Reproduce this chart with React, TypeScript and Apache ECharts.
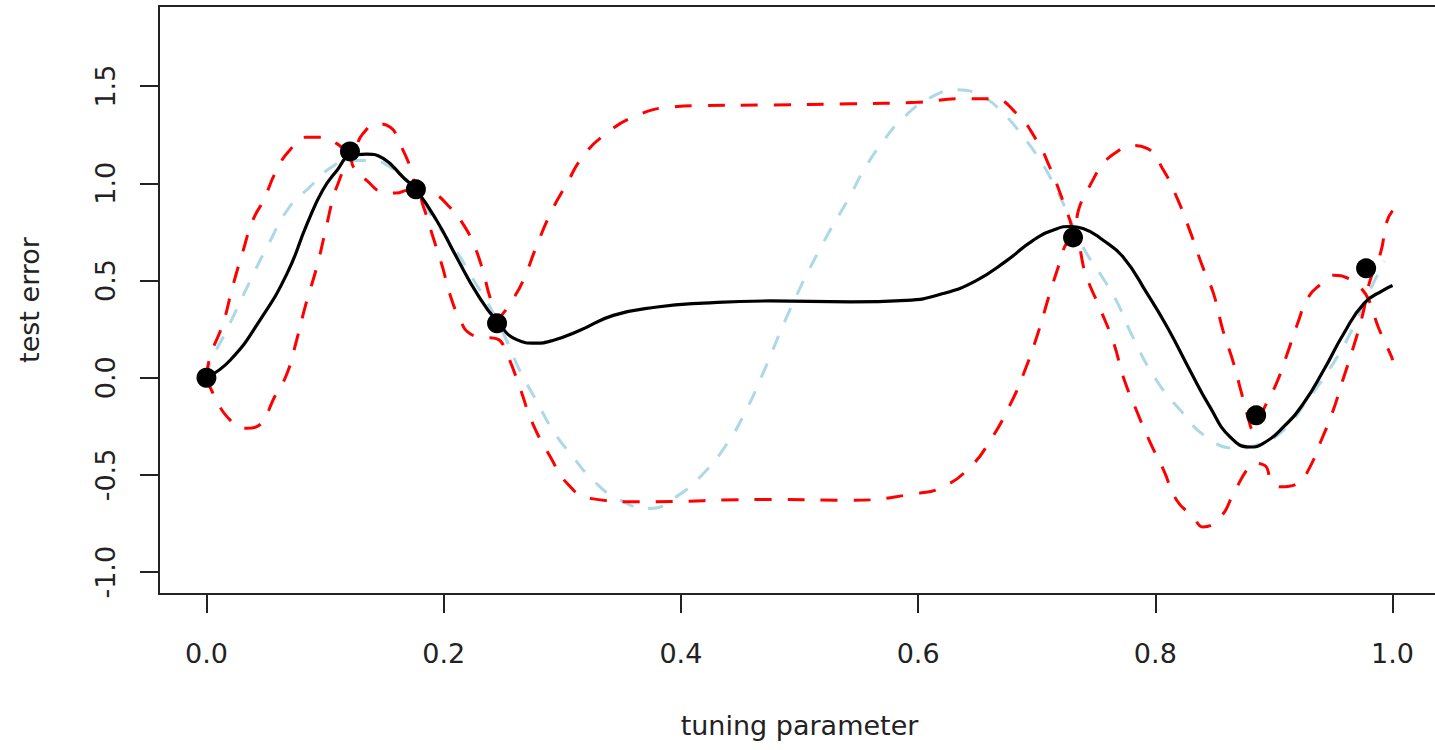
import React, { useEffect, useRef } from "react";
import * as echarts from "echarts";

const xTicks = [0, 0.2, 0.4, 0.6, 0.8, 1.0];
const yTicks = [-1, -0.5, 0, 0.5, 1, 1.5];

const observed = [
  [0, 0], [0.121, 1.164], [0.1766, 0.969], [0.245, 0.28],
  [0.7306, 0.722], [0.885, -0.193], [0.9777, 0.563],
];

const posteriorMean = [
  [0, 0], [0.02, 0.09], [0.045, 0.295], [0.068, 0.537], [0.085, 0.794],
  [0.098, 0.964], [0.11, 1.066], [0.121, 1.14], [0.135, 1.15], [0.149, 1.128],
  [0.166, 1.03], [0.177, 0.964], [0.194, 0.81], [0.211, 0.619], [0.228, 0.434],
  [0.245, 0.29], [0.262, 0.195], [0.277, 0.178], [0.292, 0.192], [0.315, 0.244],
  [0.343, 0.321], [0.38, 0.364], [0.419, 0.384], [0.475, 0.395], [0.543, 0.39],
  [0.59, 0.398], [0.621, 0.433], [0.649, 0.5], [0.675, 0.604], [0.697, 0.707],
  [0.717, 0.767], [0.728, 0.778], [0.739, 0.768], [0.756, 0.707], [0.773, 0.62],
  [0.793, 0.434], [0.81, 0.261], [0.829, 0.04], [0.846, -0.15], [0.863, -0.304],
  [0.88, -0.356], [0.891, -0.337], [0.908, -0.253], [0.925, -0.131], [0.942, 0.04],
  [0.959, 0.229], [0.976, 0.383], [0.992, 0.45], [1.0, 0.475],
];

const trueFunction = [
  [0, 0], [0.003, 0.075], [0.017, 0.244], [0.037, 0.5], [0.051, 0.672], [0.07, 0.878],
  [0.087, 0.98], [0.104, 1.077], [0.121, 1.118], [0.138, 1.118], [0.155, 1.083],
  [0.174, 0.98], [0.194, 0.794], [0.214, 0.62], [0.222, 0.535], [0.239, 0.364],
  [0.253, 0.193], [0.264, 0.039], [0.278, -0.116], [0.292, -0.27], [0.309, -0.407],
  [0.326, -0.527], [0.346, -0.62], [0.374, -0.672], [0.396, -0.612], [0.419, -0.492],
  [0.439, -0.338], [0.455, -0.167], [0.469, 0.02], [0.492, 0.35], [0.517, 0.66],
  [0.543, 0.94], [0.554, 1.066], [0.571, 1.22], [0.588, 1.34], [0.611, 1.443],
  [0.633, 1.481], [0.655, 1.443], [0.672, 1.359], [0.689, 1.237], [0.703, 1.118],
  [0.714, 0.999], [0.725, 0.861], [0.739, 0.672], [0.754, 0.53], [0.767, 0.398],
  [0.781, 0.21], [0.801, -0.013], [0.823, -0.18], [0.843, -0.304], [0.868, -0.362],
  [0.885, -0.347], [0.908, -0.27], [0.928, -0.116], [0.95, 0.074], [0.967, 0.261],
  [0.981, 0.45], [0.993, 0.6],
];

const upperBand = [
  [0, 0], [0.003, 0.107], [0.014, 0.28], [0.022, 0.467], [0.031, 0.655], [0.039, 0.809],
  [0.048, 0.912], [0.059, 1.066], [0.07, 1.169], [0.084, 1.237], [0.098, 1.237],
  [0.11, 1.204], [0.121, 1.155], [0.132, 1.256], [0.1435, 1.306], [0.155, 1.289],
  [0.163, 1.204], [0.172, 1.083], [0.177, 0.99], [0.185, 0.965], [0.191, 0.955],
  [0.205, 0.878], [0.216, 0.794], [0.225, 0.69], [0.233, 0.553], [0.239, 0.415],
  [0.246, 0.31], [0.25, 0.33], [0.258, 0.4], [0.267, 0.5], [0.278, 0.672],
  [0.29, 0.845], [0.304, 1.0], [0.317, 1.135], [0.337, 1.256], [0.363, 1.349],
  [0.391, 1.392], [0.419, 1.4], [0.475, 1.403], [0.543, 1.409], [0.599, 1.417],
  [0.638, 1.435], [0.663, 1.435], [0.683, 1.359], [0.7, 1.22], [0.711, 1.083],
  [0.722, 0.912], [0.728, 0.81], [0.731, 0.75], [0.736, 0.878], [0.745, 0.99],
  [0.756, 1.1], [0.767, 1.16], [0.78, 1.195], [0.793, 1.18], [0.807, 1.066],
  [0.818, 0.929], [0.829, 0.758], [0.84, 0.569], [0.849, 0.434], [0.857, 0.244],
  [0.866, 0.074], [0.872, -0.064], [0.878, -0.2], [0.883, -0.27], [0.887, -0.24],
  [0.891, -0.167], [0.902, -0.03], [0.911, 0.12], [0.92, 0.28], [0.929, 0.415],
  [0.94, 0.484], [0.95, 0.527], [0.963, 0.51], [0.972, 0.47], [0.98, 0.4],
  [0.988, 0.26], [0.999, 0.11], [1.0, 0.09],
];

const lowerBand = [
  [0, 0], [0.0055, -0.08], [0.02, -0.218], [0.034, -0.26], [0.042, -0.253], [0.059, -0.08],
  [0.068, 0.023], [0.076, 0.193], [0.084, 0.383], [0.093, 0.569], [0.101, 0.775],
  [0.107, 0.929], [0.113, 1.032], [0.118, 1.118], [0.121, 1.14], [0.124, 1.083],
  [0.135, 1.015], [0.149, 0.955], [0.16, 0.95], [0.17, 0.965], [0.177, 0.96],
  [0.183, 0.878], [0.191, 0.724], [0.199, 0.57], [0.205, 0.434], [0.214, 0.296],
  [0.222, 0.228], [0.233, 0.21], [0.245, 0.2], [0.253, 0.126], [0.264, -0.047],
  [0.275, -0.234], [0.29, -0.407], [0.304, -0.542], [0.323, -0.62], [0.363, -0.638],
  [0.475, -0.626], [0.543, -0.63], [0.599, -0.595], [0.621, -0.561], [0.644, -0.458],
  [0.661, -0.321], [0.678, -0.133], [0.689, 0.022], [0.7, 0.21], [0.711, 0.433],
  [0.72, 0.604], [0.725, 0.69], [0.731, 0.72], [0.742, 0.518], [0.754, 0.347],
  [0.765, 0.177], [0.773, 0.004], [0.784, -0.167], [0.796, -0.337], [0.807, -0.475],
  [0.818, -0.63], [0.832, -0.715], [0.84, -0.767], [0.855, -0.715], [0.866, -0.594],
  [0.877, -0.475], [0.883, -0.44], [0.892, -0.45], [0.898, -0.527], [0.906, -0.561],
  [0.92, -0.544], [0.929, -0.475], [0.94, -0.32], [0.949, -0.184], [0.958, -0.013],
  [0.967, 0.158], [0.975, 0.33], [0.981, 0.5], [0.99, 0.645], [0.995, 0.8], [1.0, 0.86],
];

const FONT = "DejaVu Sans";

export default function App() {
  const ref = useRef<HTMLDivElement>(null);
  useEffect(() => {
    if (!ref.current) return;
    const chart = echarts.init(ref.current, null, { renderer: "svg" });
    const redStyle = { color: "#ff0000", width: 3, type: [17, 16] as number[] };
    const lineCommon = { type: "line", showSymbol: false, smooth: 0.5 };
    chart.setOption({
      animation: false,
      backgroundColor: "#ffffff",
      grid: {
        left: 159,
        right: 10,
        top: 6,
        bottom: 156,
        show: true,
        borderColor: "#222",
        borderWidth: 2,
        backgroundColor: "transparent",
      },
      xAxis: {
        type: "value",
        min: -0.04,
        max: 1.04,
        name: "tuning parameter",
        nameLocation: "middle",
        nameGap: 118,
        nameTextStyle: { fontFamily: FONT, fontSize: 27, color: "#222" },
        splitLine: { show: false },
        axisLine: { show: false, onZero: false },
        axisTick: {
          show: true,
          inside: false,
          length: 19,
          lineStyle: { color: "#222", width: 2 },
          customValues: xTicks,
        },
        axisLabel: {
          fontFamily: FONT,
          fontSize: 27,
          color: "#222",
          margin: 46,
          customValues: xTicks,
          formatter: (v: number) => v.toFixed(1),
        },
      },
      yAxis: {
        type: "value",
        min: -1.112,
        max: 1.912,
        name: "test error",
        nameLocation: "middle",
        nameGap: 116,
        nameTextStyle: { fontFamily: FONT, fontSize: 27, color: "#222" },
        splitLine: { show: false },
        axisLine: { show: false, onZero: false },
        axisTick: {
          show: true,
          inside: false,
          length: 19,
          lineStyle: { color: "#222", width: 2 },
          customValues: yTicks,
        },
        axisLabel: {
          fontFamily: FONT,
          fontSize: 27,
          color: "#222",
          rotate: 90,
          margin: 40,
          customValues: yTicks,
          formatter: (v: number) => v.toFixed(1),
        },
      },
      series: [
        {
          ...lineCommon,
          data: trueFunction,
          lineStyle: { color: "#ADD8E6", width: 3, type: [15, 15] },
          z: 2,
        },
        { ...lineCommon, data: upperBand, lineStyle: redStyle, z: 3 },
        { ...lineCommon, data: lowerBand, lineStyle: redStyle, z: 3 },
        {
          ...lineCommon,
          data: posteriorMean,
          lineStyle: { color: "#000", width: 3.2 },
          z: 4,
        },
        {
          type: "scatter",
          data: observed,
          symbol: "circle",
          symbolSize: 20,
          itemStyle: { color: "#000", opacity: 1 },
          z: 5,
        },
      ],
    });
    return () => chart.dispose();
  }, []);
  return (
    <div style={{ position: "fixed", left: 0, top: 0, width: 1435, height: 750, overflow: "hidden", background: "#fff" }}>
      <div ref={ref} style={{ width: 1450, height: 750 }} />
    </div>
  );
}
